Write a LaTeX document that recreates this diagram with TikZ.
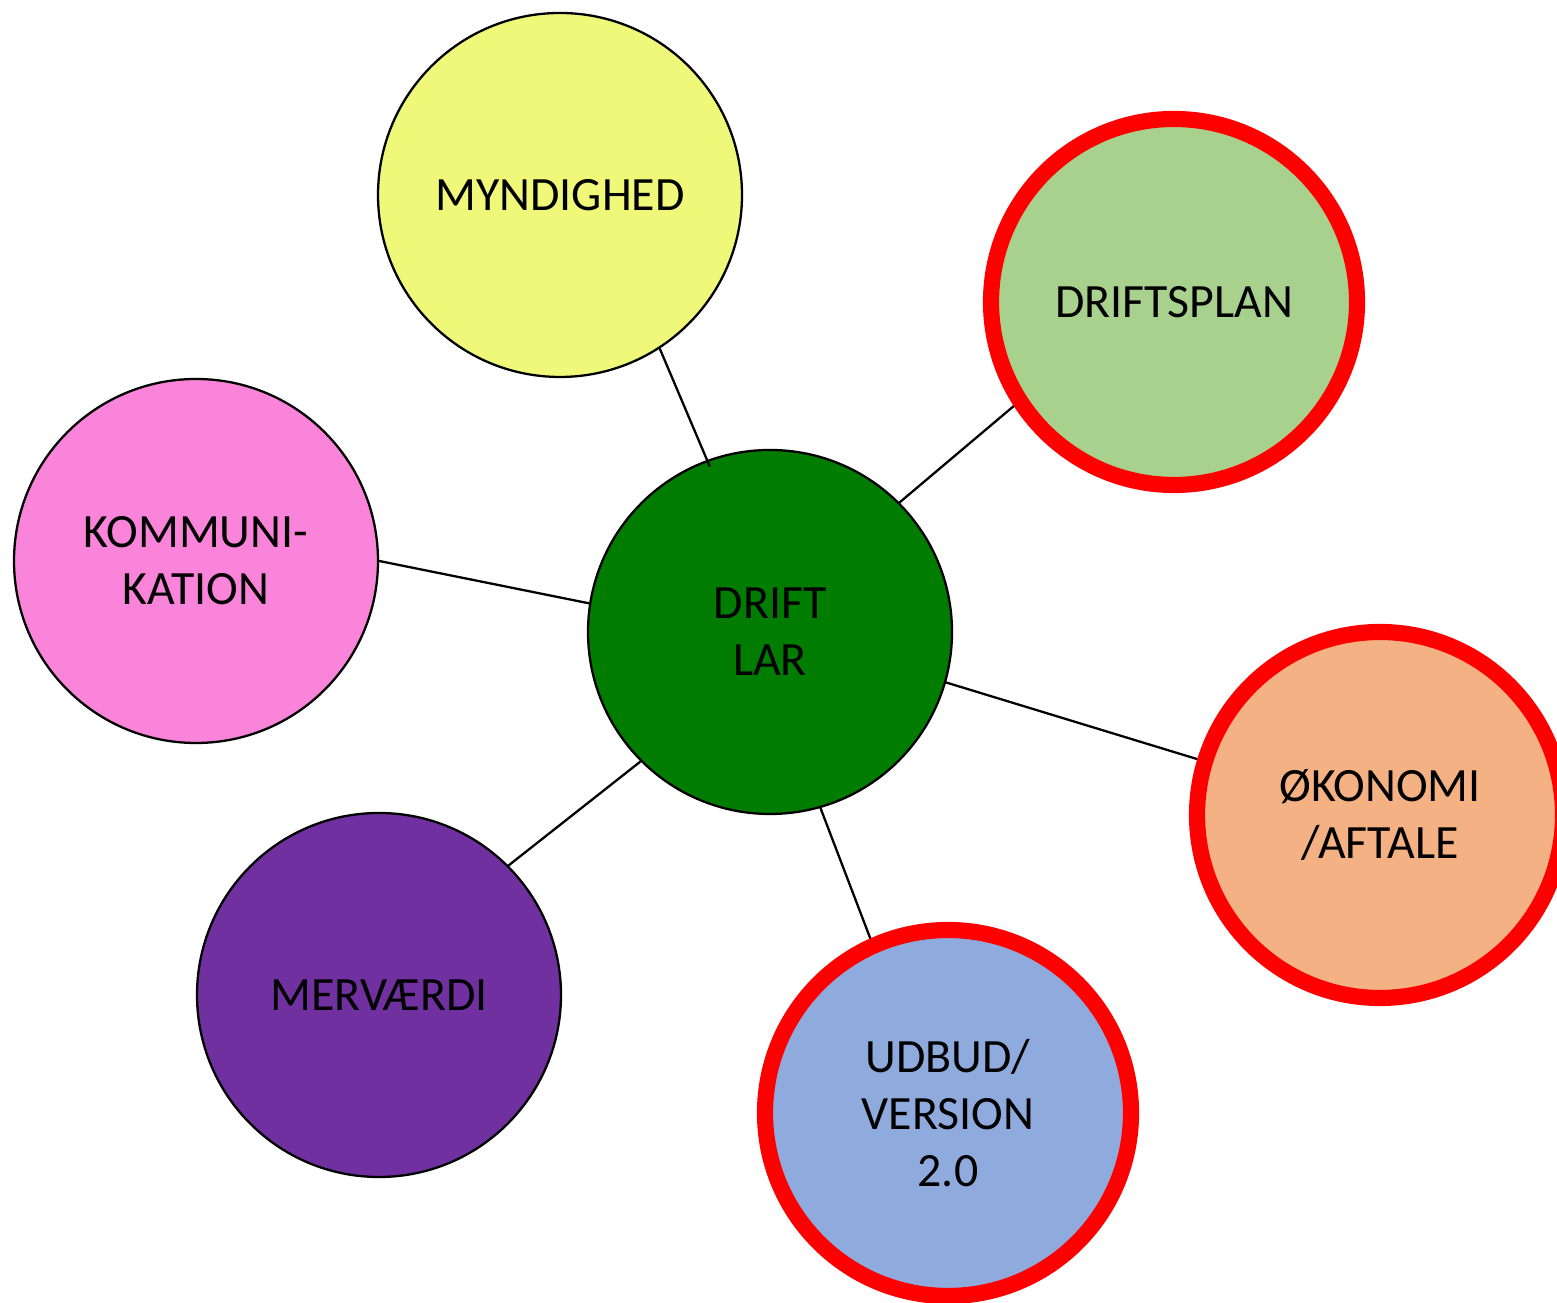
\documentclass[tikz,border=0pt]{standalone}
\usepackage{xcolor}
\usepackage{fontspec}
\setmainfont{Carlito}
\usepackage{tikz}

\definecolor{driftgreen}{RGB}{0,124,0}
\definecolor{mynyellow}{RGB}{240,248,122}
\definecolor{plangreen}{RGB}{169,209,142}
\definecolor{kompink}{RGB}{249,132,218}
\definecolor{okoorange}{RGB}{244,177,131}
\definecolor{mervpurple}{RGB}{112,48,160}
\definecolor{udbudblue}{RGB}{143,170,220}

\begin{document}
\begin{tikzpicture}[line width=0.65pt,
	bubble/.style={circle, draw=black, line width=0.65pt, minimum size=3.64cm, inner sep=0pt, align=center, font=\fontsize{13.6pt}{16.3pt}\selectfont},
	keybubble/.style={bubble, draw=red, line width=4.6pt, minimum size=3.66cm}]
		\useasboundingbox (0,0) rectangle (15.57,13.03);
		\node[bubble, fill=driftgreen] (drift) at (7.70,6.71) {DRIFT\\LAR};
		\node[bubble, fill=mynyellow] (myndighed) at (5.60,11.08) {MYNDIGHED};
		\node[keybubble, fill=plangreen] (driftsplan) at (11.74,10.01) {DRIFTSPLAN};
		\node[bubble, fill=kompink] (kommunikation) at (1.96,7.42) {KOMMUNI-\\KATION};
		\node[keybubble, fill=okoorange] (okonomi) at (13.80,4.88) {ØKONOMI\\/AFTALE};
		\node[bubble, fill=mervpurple] (merv) at (3.79,3.08) {MERVÆRDI};
		\node[keybubble, fill=udbudblue] (udbud) at (9.48,1.90) {UDBUD/\\VERSION\\2.0};
		\draw (myndighed.-57) -- ([shift={(110:-0.07)}]drift.110);
		\draw (driftsplan.213) -- (drift.45);
		\draw (kommunikation.0) -- (drift.171);
		\draw (okonomi.163) -- (drift.-16);
		\draw (udbud.114) -- (drift.-74);
		\draw (merv.45) -- (drift.225);
\end{tikzpicture}
\end{document}
